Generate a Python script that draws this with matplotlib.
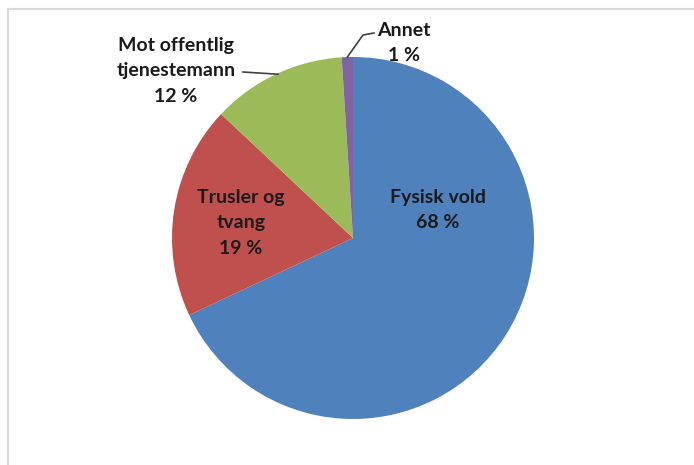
import numpy as np
import matplotlib
matplotlib.use("Agg")
import matplotlib.pyplot as plt
from matplotlib.lines import Line2D

categories = ["Fysisk vold", "Trusler og\ntvang", "Mot offentlig\ntjenestemann", "Annet"]
values = [68, 19, 12, 1]
pct_labels = ["68 %", "19 %", "12 %", "1 %"]
colors = ["#4F81BD", "#C0504D", "#9BBB59", "#8064A2"]

W, H = 694, 465
fig = plt.figure(figsize=(W / 100, H / 100), dpi=100)
ax = fig.add_axes([0, 0, 1, 1])

cx, cy, R = 353, H - 238, 181
wedges, _ = ax.pie(values, colors=colors, startangle=90, counterclock=False,
                   center=(cx, cy), radius=R, frame=True,
                   wedgeprops=dict(linewidth=0))
ax.set_xlim(0, W)
ax.set_ylim(0, H)
ax.set_aspect("equal")
ax.axis("off")

font = dict(family=["Lato", "DejaVu Sans"], fontweight="bold", fontsize=14,
            color="#1a1a1a", ha="center", va="center", linespacing=1.6)

# inside labels
ax.text(438, H - 210, categories[0] + "\n" + pct_labels[0], **font)
ax.text(241, H - 223, categories[1] + "\n" + pct_labels[1], **font)
# outside labels
ax.text(176, H - 71, categories[2] + "\n" + pct_labels[2], **font)
ax.text(404, H - 43, categories[3] + "\n" + pct_labels[3], **font)

def edge_point(w):
    ang = np.deg2rad((w.theta1 + w.theta2) / 2)
    return cx + R * np.cos(ang), cy + R * np.sin(ang)

gx, gy = edge_point(wedges[2])
ax.plot([243, gx + 2], [H - 72, gy], color="#404040", lw=1.2)
px, py = edge_point(wedges[3])
ax.plot([px, 363, 374], [py, H - 35, H - 33], color="#404040", lw=1.2)

# frame lines
fig.add_artist(Line2D([8 / W, 1], [1 - 9 / H, 1 - 9 / H], color="#D9D9D9", lw=1.5))
fig.add_artist(Line2D([8 / W, 8 / W], [0, 1 - 9 / H], color="#D9D9D9", lw=1.5))

fig.savefig("out.png", dpi=100)
